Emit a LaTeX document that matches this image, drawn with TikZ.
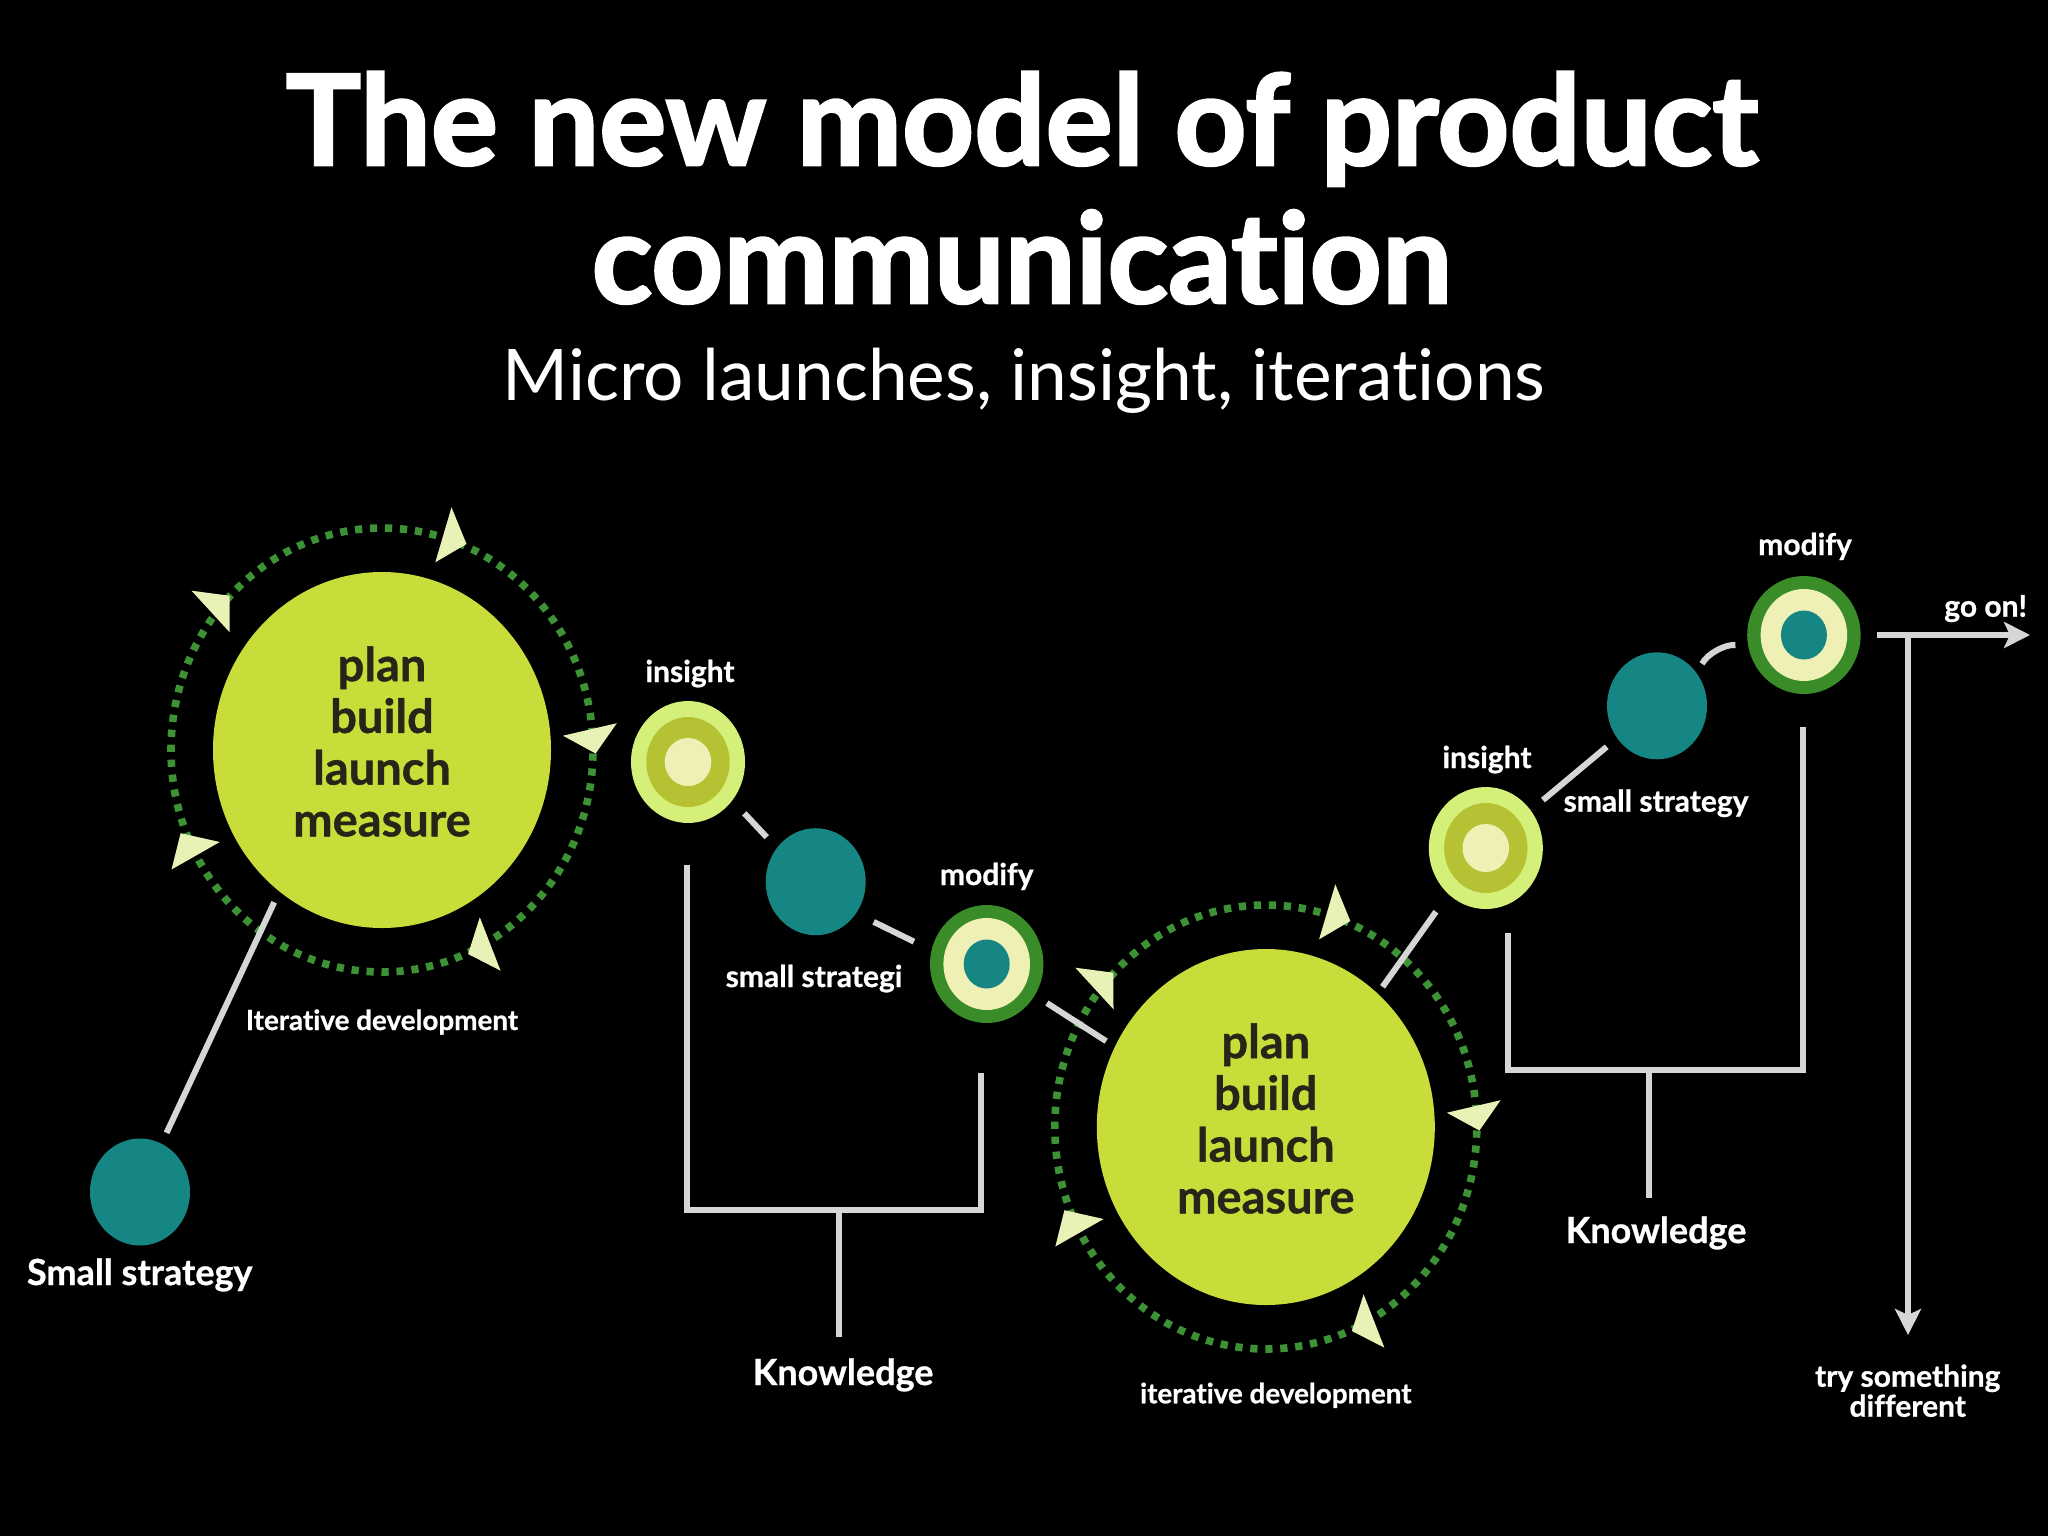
\documentclass[tikz,border=0pt]{standalone}
\usepackage{fontspec}
\setmainfont{Lato}[Ligatures=NoCommon, BoldFeatures={FakeBold=0.8}]
\newfontfamily\titlefont{Lato}[Ligatures=NoCommon, FakeBold=2]
\usetikzlibrary{shapes.geometric,arrows.meta,calc}
\definecolor{lime}{RGB}{200,220,58}
\definecolor{ringg}{RGB}{60,146,52}
\definecolor{tri}{RGB}{232,242,182}
\definecolor{tealc}{RGB}{22,134,132}
\definecolor{insout}{RGB}{212,240,120}
\definecolor{insmid}{RGB}{182,194,52}
\definecolor{pale}{RGB}{238,240,182}
\definecolor{moddark}{RGB}{58,140,40}
\definecolor{linec}{RGB}{214,214,214}
\definecolor{darktext}{RGB}{38,38,24}
\tikzset{
  blob/.style={ellipse, inner sep=0pt, outer sep=0pt, draw=none},
  bigc/.style={blob, fill=lime, minimum width=169pt, minimum height=178pt},
  tealdot/.style={blob, fill=tealc, minimum width=50pt, minimum height=53.5pt},
  insouter/.style={blob, fill=insout, minimum width=57pt, minimum height=61pt},
  insmiddle/.style={blob, fill=insmid, minimum width=41.7pt, minimum height=45pt},
  insinner/.style={blob, fill=pale, minimum width=23.3pt, minimum height=24pt},
  modouter/.style={blob, fill=moddark, minimum width=56.7pt, minimum height=59pt},
  modmiddle/.style={blob, fill=pale, minimum width=43.3pt, minimum height=46pt},
  modinner/.style={blob, fill=tealc, minimum width=23pt, minimum height=24.5pt},
  conn/.style={draw=linec, line width=3pt},
  ringline/.style={draw=ringg, line width=3.8pt, dash pattern=on 3.6pt off 3.9pt},
  tritip/.style={fill=tri},
  lab/.style={text=white, font=\bfseries\fontsize{15pt}{18pt}\selectfont, anchor=base, inner sep=0pt},
  biglab/.style={text=white, font=\bfseries\fontsize{18pt}{21pt}\selectfont, anchor=base, inner sep=0pt},
  itlab/.style={text=white, font=\bfseries\fontsize{13.9pt}{16pt}\selectfont, anchor=base, inner sep=0pt},
  circtext/.style={text=darktext, font=\bfseries\fontsize{23.5pt}{25.85pt}\selectfont, align=center, inner sep=0pt},
  titletext/.style={text=white, font=\titlefont\bfseries\fontsize{62.8pt}{70pt}\selectfont, anchor=base, inner sep=0pt},
  subtext/.style={text=white, font=\fontsize{35.6pt}{40pt}\selectfont, anchor=base, inner sep=0pt},
  arr/.style={-{Stealth[length=13pt,width=13pt,inset=3pt]}}
}
\newcommand\ringtris[1]{%
  \begin{scope}[shift={#1}]
    \fill[tritip] (69.5,-242.7) -- (84.5,-206) -- (53.3,-187.7) -- cycle;
    \fill[tritip] (-190.5,-159.3) -- (-152.5,-154.3) -- (-152.3,-117.7) -- cycle;
    \fill[tritip] (181,-14.3) -- (234.8,-26.8) -- (213.6,3.5) -- cycle;
    \fill[tritip] (-210.5,119.5) -- (-201.4,83.2) -- (-162.2,92) -- cycle;
    \fill[tritip] (97.8,167.3) -- (118.6,220.7) -- (86.1,204) -- cycle;
  \end{scope}}
\begin{document}
\begin{tikzpicture}[x=0.5pt,y=-0.5pt]
\fill[black] (0,0) rectangle (2048,1536);
\useasboundingbox (0,0) rectangle (2048,1536);
% title
\node[titletext] (t1) at (1022,165) {The new model of product};
\node[titletext] (t2) at (1022,303) {communication};
\node[subtext] (st) at (1024,400) {Micro launches, insight, iterations};
% rings
\draw[ringline] (382,750) ellipse [x radius=105.5pt, y radius=111pt];
\draw[ringline] (1265.8,1127) ellipse [x radius=105.5pt, y radius=111pt];
\ringtris{(382,750)}
\ringtris{(1265.8,1127)}
% main nodes
\node[bigc] (c1) at (382,750) {};
\node[bigc] (c2) at (1265.8,1127) {};
\node[circtext] (c1t) at (382,741.5) {plan\\build\\launch\\measure};
\node[circtext] (c2t) at (1265.8,1118.5) {plan\\build\\launch\\measure};
\node[tealdot] (ss) at (140,1192) {};
\node[tealdot] (tt2) at (815.7,881.7) {};
\node[tealdot] (tt3) at (1657,705.8) {};
\node[insouter] (ins1) at (688,762) {};
\node[insmiddle] (ins1m) at (688,762) {};
\node[insinner] (ins1i) at (688,762) {};
\node[insouter] (ins2) at (1485.8,848) {};
\node[insmiddle] (ins2m) at (1485.8,848) {};
\node[insinner] (ins2i) at (1485.8,848) {};
\node[modouter] (mod1) at (986.7,964) {};
\node[modmiddle] (mod1m) at (986.7,964) {};
\node[modinner] (mod1i) at (986.7,964) {};
\node[modouter] (mod2) at (1803.9,635) {};
\node[modmiddle] (mod2m) at (1803.9,635) {};
\node[modinner] (mod2i) at (1803.9,635) {};
% connectors
\draw[conn, shorten <=6pt, shorten >=6pt] (ss.66) -- (c1.234);
\draw[conn, shorten <=8.8pt, shorten >=7.4pt] (ins1.-41) -- (tt2.139);
\draw[conn, shorten <=9.8pt, shorten >=9.8pt] (tt2.-38) -- (mod1.166);
\draw[conn, shorten <=7.2pt, shorten >=5.2pt] (mod1.-33) -- (c2.152.5);
\draw[conn, shorten <=4.2pt, shorten >=10.8pt] (c2.50) -- (ins2.231);
\draw[conn, shorten <=8pt, shorten >=6.8pt] (ins2.40) -- (tt3.219);
\draw[conn, shorten <=5.5pt, shorten >=6.5pt] (tt3.39) to[bend left=35] (mod2.192);
% knowledge brackets
\coordinate (k1a) at (686.7,865);
\coordinate (k1c) at (980.7,1210);
\coordinate (k1b) at (980.7,1073.3);
\coordinate (k1m) at (839.3,1210);
\coordinate (k1s) at (839.3,1336.7);
\draw[conn] (k1a) |- (k1c) -- (k1b);
\draw[conn] (k1m) -- (k1s);
\coordinate (k2a) at (1508.3,933.3);
\coordinate (k2c) at (1802.8,1070);
\coordinate (k2b) at (1802.8,726.7);
\coordinate (k2m) at (1649.3,1070);
\coordinate (k2s) at (1649.3,1198);
\draw[conn] (k2a) |- (k2c) -- (k2b);
\draw[conn] (k2m) -- (k2s);
% go on / try
\coordinate (goend) at (2030,635);
\coordinate (vtop) at (1908,635);
\coordinate (vend) at (1908,1335);
\draw[conn, arr, shorten <=8pt] (mod2.east) -- (goend);
\draw[conn, arr] (vtop) -- (vend);
% labels
\node[lab] (lins1) at (690,682) {insight};
\node[lab] (lmod1) at (986.7,885) {modify};
\node[lab] (lss2) at (814,987) {small strategi};
\node[lab] (lins2) at (1487,768) {insight};
\node[lab] (lss3) at (1656,811.7) {small strategy};
\node[lab] (lmod2) at (1805,555) {modify};
\node[lab] (lgo) at (1985.6,616.7) {go on!};
\node[lab] (ltry1) at (1907.7,1386.7) {try something};
\node[lab] (ltry2) at (1907.7,1416.7) {different};
\node[biglab] (lss1) at (139.7,1285) {Small strategy};
\node[itlab] (lit1) at (382,1030) {Iterative development};
\node[itlab] (lit2) at (1275.8,1403.3) {iterative development};
\node[biglab] (kn1) at (843,1385) {Knowledge};
\node[biglab] (kn2) at (1656,1243) {Knowledge};
\end{tikzpicture}
\end{document}
